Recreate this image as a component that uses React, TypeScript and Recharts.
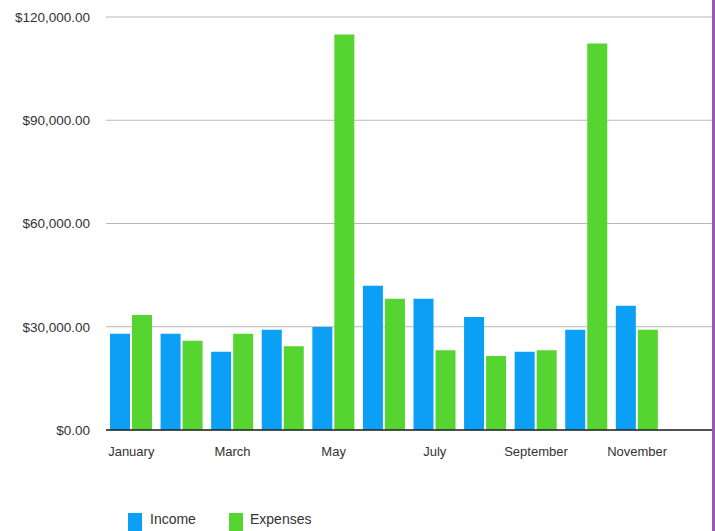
import { BarChart, Bar, XAxis, YAxis, CartesianGrid } from "recharts";

// months (December has no data yet)
const MONTHS = [
  "January", "February", "March", "April", "May", "June",
  "July", "August", "September", "October", "November", "December",
];
const INCOME = [28000, 28000, 22700, 29100, 29900, 41900, 38100, 32800, 22700, 29100, 36100, null];
const EXPENSES = [33400, 25900, 28000, 24300, 114900, 38100, 23200, 21500, 23200, 112300, 29100, null];
const Y_TICKS = [0, 30000, 60000, 90000, 120000];

const COLORS = {
  income: "#0b9ff5",
  expenses: "#56d42f",
  grid: "#b8b8b8",
  axis: "#222222",
  text: "#333333",
};

const FONT = "'Liberation Sans', Arial, sans-serif";

const formatMoney = (v: number) =>
  "$" + v.toLocaleString("en-US", { minimumFractionDigits: 2, maximumFractionDigits: 2 });

export default function App() {
  const data = MONTHS.map((m, i) => ({
    month: m,
    Income: INCOME[i],
    Expenses: EXPENSES[i],
  }));

  return (
    <div style={{ position: "fixed", left: 0, top: 0, width: 715, height: 531, background: "#fff", fontFamily: FONT, overflow: "hidden" }}>
      <BarChart
        width={713}
        height={531}
        data={data}
        margin={{ top: 17, right: 0, left: 0, bottom: 71 }}
        barCategoryGap={4}
        barGap={2}
      >
        <CartesianGrid vertical={false} stroke={COLORS.grid} strokeWidth={1.2} />
        <XAxis
          dataKey="month"
          interval={1}
          height={30}
          tickSize={0}
          tickMargin={17}
          axisLine={{ stroke: COLORS.axis, strokeWidth: 1.5 }}
          tick={{ fontSize: 13, fill: COLORS.text, fontFamily: FONT }}
        />
        <YAxis
          width={106}
          domain={[0, 120000]}
          ticks={Y_TICKS}
          tickSize={0}
          tickMargin={16}
          axisLine={false}
          tickFormatter={formatMoney}
          tick={{ fontSize: 13.5, fill: COLORS.text, fontFamily: FONT }}
        />
        <Bar dataKey="Income" fill={COLORS.income} isAnimationActive={false} />
        <Bar dataKey="Expenses" fill={COLORS.expenses} isAnimationActive={false} />
      </BarChart>

      {/* right edge border */}
      <div style={{ position: "absolute", left: 712, top: 0, width: 3, height: 531, background: "#9b59b6" }} />

      {/* legend */}
      <div style={{ position: "absolute", left: 128, top: 513, width: 14, height: 18, background: COLORS.income }} />
      <div style={{ position: "absolute", left: 150, top: 510, fontSize: 14, lineHeight: "18px", color: COLORS.text }}>Income</div>
      <div style={{ position: "absolute", left: 229, top: 513, width: 14, height: 18, background: COLORS.expenses }} />
      <div style={{ position: "absolute", left: 250, top: 510, fontSize: 14, lineHeight: "18px", color: COLORS.text }}>Expenses</div>
    </div>
  );
}
